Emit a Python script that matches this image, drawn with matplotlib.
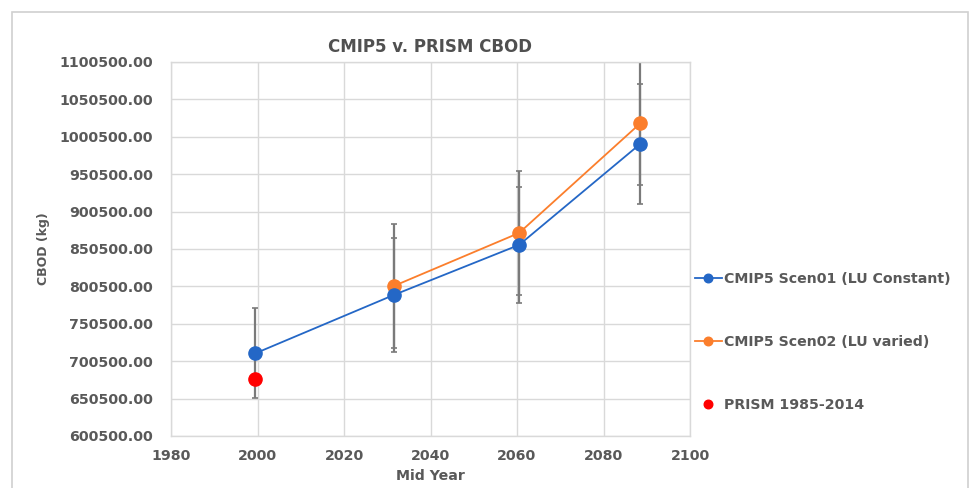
import matplotlib
matplotlib.use("Agg")
import matplotlib.pyplot as plt
from matplotlib.patches import Rectangle

plt.rcParams['font.family'] = ['DejaVu Sans']

# Data
years_s1 = [1999.5, 2031.5, 2060.5, 2088.5]
cbod_s1 = [711000, 789000, 856000, 991000]
err_s1 = [60000, 76000, 78000, 80000]

years_s2 = [2031.5, 2060.5, 2088.5]
cbod_s2 = [801000, 872000, 1018500]
err_s2 = [83000, 83000, 82000]

years_prism = [1999.5]
cbod_prism = [676500]

yticks = [600500 + 50000 * i for i in range(11)]
xticks = [1980, 2000, 2020, 2040, 2060, 2080, 2100]

labels = ["CMIP5 Scen01 (LU Constant)", "CMIP5 Scen02 (LU varied)", "PRISM 1985-2014"]

blue = "#2467C6"
orange = "#FB7E2C"
red = "#FF0000"
gray_err = "#7a7a7a"
grid_c = "#d9d9d9"
txt_c = "#595959"

fig = plt.figure(figsize=(9.73, 4.88), dpi=100)
W, H = 973, 488
# outer chart border
fig.patches.append(Rectangle((12 / W, -0.01), (968 - 12) / W, (488 - 12) / H + 0.01,
                             transform=fig.transFigure, fill=False, ec="#d0d0d0", lw=1.2))

ax = fig.add_axes([171 / W, 1 - 436 / H, (690 - 171) / W, (436 - 62) / H])

ax.errorbar(years_s1, cbod_s1, yerr=err_s1, fmt='none', ecolor=gray_err, elinewidth=1.6,
            capsize=2.5, capthick=1.2, zorder=2)
ax.errorbar(years_s2, cbod_s2, yerr=err_s2, fmt='none', ecolor=gray_err, elinewidth=1.6,
            capsize=2.5, capthick=1.2, zorder=2)

l1, = ax.plot(years_s1, cbod_s1, '-o', color=blue, lw=1.3, markersize=9.5, zorder=4, label=labels[0])
l2, = ax.plot(years_s2, cbod_s2, '-o', color=orange, lw=1.3, markersize=9.5, zorder=3, label=labels[1])
l3, = ax.plot(years_prism, cbod_prism, 'o', color=red, markersize=9.5, zorder=4, label=labels[2])

ax.set_xlim(1980, 2100)
ax.set_ylim(600500, 1100500)
ax.set_xticks(xticks)
ax.set_yticks(yticks)
ax.set_yticklabels([f"{v:.2f}" for v in yticks])
ax.grid(True, color=grid_c, lw=1.0)
ax.set_axisbelow(True)
for s in ax.spines.values():
    s.set_color(grid_c)
    s.set_linewidth(1.0)
ax.tick_params(length=0, colors=txt_c, labelsize=10.2)
for t in ax.get_xticklabels() + ax.get_yticklabels():
    t.set_fontweight('bold')
ax.tick_params(axis='y', pad=13)
ax.tick_params(axis='x', pad=9)

ax.set_title("CMIP5 v. PRISM CBOD", fontsize=12, fontweight='bold', color="#505050", pad=7)
ax.set_xlabel("Mid Year", fontsize=10.2, fontweight='bold', color=txt_c, labelpad=5)
fig.text(44 / W, 1 - 249 / H, "CBOD (kg)", rotation=90, ha='center', va='center',
         fontsize=9, fontweight='bold', color=txt_c)

leg = fig.legend(handles=[l1, l2, l3], loc='center left', bbox_to_anchor=(682 / W, 1 - 342 / H),
                 frameon=False, labelspacing=3.45, handlelength=1.9, handletextpad=0.2,
                 markerscale=0.65, prop={'size': 10.2, 'weight': 'bold'})
for t in leg.get_texts():
    t.set_color(txt_c)

fig.savefig("out.png", dpi=100)
